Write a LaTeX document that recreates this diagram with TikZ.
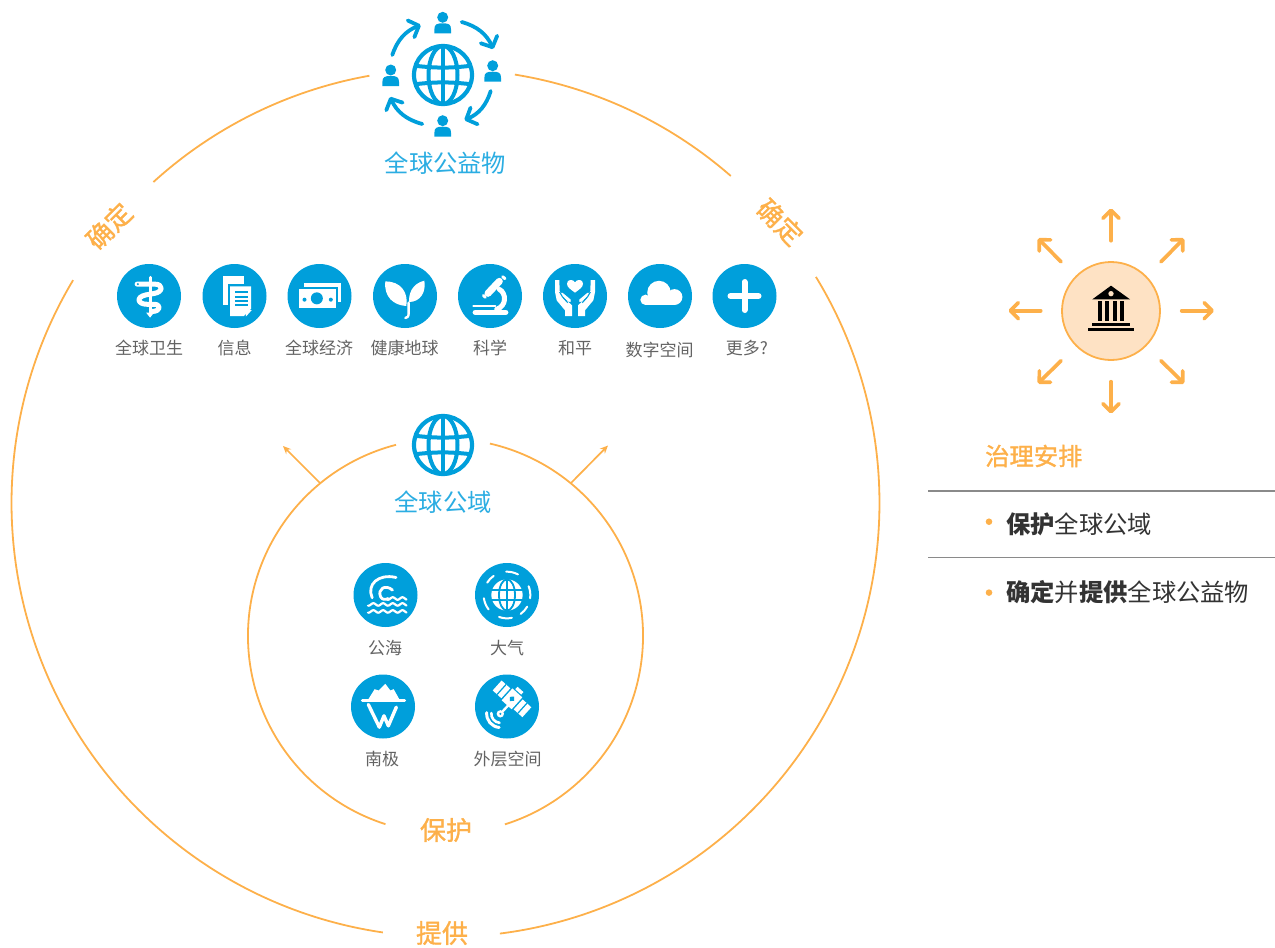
\documentclass[tikz,border=0pt]{standalone}
\usepackage{fontspec}
\usetikzlibrary{arrows.meta,calc}
\newfontfamily\cjk{Noto Sans CJK SC}
\newfontfamily\cjkmed[FakeBold=1.2]{Noto Sans CJK SC}
\definecolor{gblue}{HTML}{009FDB}
\definecolor{gbluetxt}{HTML}{2BADE2}
\definecolor{gorange}{HTML}{FDB04A}
\definecolor{gpeach}{HTML}{FEE2C4}
\definecolor{ggrey}{HTML}{636363}
\definecolor{gdark}{HTML}{333333}
\definecolor{grule}{HTML}{8A8A8A}
\tikzset{
  ring/.style={draw=gorange,line width=1.8pt},
  iconcirc/.style={circle,fill=gblue,minimum size=64pt,inner sep=0pt},
  lab/.style={font=\cjk\fontsize{17}{17}\selectfont,text=ggrey,inner sep=0pt},
  bluetitle/.style={font=\cjk\fontsize{24.3}{24.3}\selectfont,text=gbluetxt,inner sep=0pt},
  ringlab/.style={font=\cjkmed\fontsize{26}{26}\selectfont,text=gorange,inner sep=0pt},
  paneltxt/.style={font=\cjk\fontsize{24.3}{24.3}\selectfont,text=gdark,inner sep=0pt,anchor=west},
  burst/.style={draw=gorange,line width=3.7pt,line cap=round,-{Straight Barb[round,length=8pt,width=16pt]}},
  cyc/.style={draw=gblue,line width=3.8pt,line cap=round,-{Straight Barb[round,length=8.5pt,width=18pt]}},
  thinarrow/.style={draw=gorange,line width=1.7pt,-{Stealth[length=8pt,width=7pt]}},
  wl/.style={draw=white,line cap=round,line join=round},
  rulex/.style={draw=grule,line width=1.2pt},
}
\newcommand{\ringarc}[5]{\draw[ring] ({#1+#3*cos(#4)},{#2-#3*sin(#4)}) arc[start angle=#4,end angle=#5,radius=#3 pt];}
\newcommand{\globe}[2]{%
 \begin{scope}[shift={(#1,#2)}]
  \draw[gblue,line width=4.2pt] (0,0) circle[radius=29pt];
  \draw[gblue,line width=4pt] (0,0) ellipse[x radius=14.5pt,y radius=29pt];
  \draw[gblue,line width=4pt] (0,-29)--(0,29);
  \draw[gblue,line width=4pt] (-26,-9) to[bend right=6] (26,-9);
  \draw[gblue,line width=4pt] (-26,9) to[bend left=6] (26,9);
 \end{scope}}
\newcommand{\person}[2]{%
 \fill[gblue] (#1,#2-6) circle[radius=5.5pt];
 \fill[gblue] (#1-8.3,#2+10) -- (#1-8.3,#2+6) .. controls (#1-8.3,#2+1) and (#1-6,#2) .. (#1,#2) .. controls (#1+6,#2) and (#1+8.3,#2+1) .. (#1+8.3,#2+6) -- (#1+8.3,#2+10) -- cycle;}
\begin{document}
\begin{tikzpicture}[x=1pt,y=-1pt]
\useasboundingbox (0,0) rectangle (1275,948);
% rings
\ringarc{445.5}{503}{434}{100.1}{132.3}
\ringarc{445.5}{503}{434}{80.8}{48.9}
\ringarc{445.5}{503}{434}{31.4}{-82.8}
\ringarc{445.5}{503}{434}{261.7}{149.1}
\ringarc{445.5}{636}{197.5}{104.5}{252.3}
\ringarc{445.5}{636}{197.5}{77}{-72.5}
\coordinate (ta1) at (320,483); \coordinate (tb1) at (283,446);
\coordinate (ta2) at (571,483); \coordinate (tb2) at (608,445.5);
\draw[thinarrow] (ta1)--(tb1);
\draw[thinarrow] (ta2)--(tb2);
% ring labels
\node[ringlab,rotate=45] (qdl) at (109,226) {确定};
\node[ringlab,rotate=-45] (qdr) at (780,222) {确定};
\node[ringlab] (bh) at (446,830) {保护};
\node[ringlab] (tg) at (442,933) {提供};
% top icon
\globe{443}{75}
\person{442.7}{23.3}
\person{492.7}{71.7}
\person{390.7}{76}
\person{442.7}{126.7}
\coordinate (c1a) at (461.7,22); \coordinate (c1b) at (493.3,49);
\coordinate (c2a) at (490.7,91); \coordinate (c2b) at (464.5,120);
\coordinate (c3a) at (422.3,124); \coordinate (c3b) at (390,97);
\coordinate (c4a) at (392.3,55); \coordinate (c4b) at (420.7,25);
\draw[cyc] (c1a) to[bend left=25] (c1b);
\draw[cyc] (c2a) to[bend left=25] (c2b);
\draw[cyc] (c3a) to[bend left=25] (c3b);
\draw[cyc] (c4a) to[bend left=25] (c4b);
\node[bluetitle] (gpg) at (445.5,163) {全球公益物};
% second globe
\globe{443}{445}
\node[bluetitle] (gcm) at (443,502) {全球公域};
% row of icons
\node[iconcirc] (i1) at (149,296) {};
\node[iconcirc] (i2) at (234.5,296) {};
\node[iconcirc] (i3) at (319.5,296) {};
\node[iconcirc] (i4) at (405,296) {};
\node[iconcirc] (i5) at (490,296) {};
\node[iconcirc] (i6) at (575,296) {};
\node[iconcirc] (i7) at (660,296) {};
\node[iconcirc] (i8) at (744.5,296) {};
\node[lab] (l1) at (149,348) {全球卫生};
\node[lab] (l2) at (234.5,348) {信息};
\node[lab] (l3) at (319,348) {全球经济};
\node[lab] (l4) at (404.5,348) {健康地球};
\node[lab] (l5) at (490,348) {科学};
\node[lab] (l6) at (575,348) {和平};
\node[lab] (l7) at (659.5,350) {数字空间};
\node[lab] (l8) at (747,348) {更多?};
% icon 1 staff and snake
\begin{scope}[shift={(149,296)},scale=0.36]
 \draw[wl,line width=3pt] (3,-52)--(3,52);
 \fill[white] (-8,46) -- (14,46) -- (3,60) -- cycle;
 \draw[wl,line width=5pt] (-33,-33) -- (16,-33) .. controls (40,-33) and (40,-11) .. (14,-7) -- (-9,-3) .. controls (-37,3) and (-32,23) .. (-5,23) -- (14,23) .. controls (34,23) and (34,43) .. (8,43);
 \fill[gblue] (-31,-33) circle[radius=3pt];
\end{scope}
% icon 2 documents
\begin{scope}[shift={(234.5,296)},scale=1/3]
 \fill[white] (-34,-60) rectangle (28,28);
 \fill[gblue] (-20,-36) rectangle (56,66);
 \fill[white] (-13,-29) -- (50,-29) -- (50,38) -- (28,60) -- (-13,60) -- cycle;
 \fill[white] (34,42) -- (52,42) -- (34,62) -- cycle;
 \foreach \yy in {-11,2,15,28} \draw[gblue,line width=2pt] (1,\yy)--(40,\yy);
\end{scope}
% icon 3 money
\begin{scope}[shift={(319.5,296)},scale=1/3]
 \fill[white] (-48,-40) rectangle (65,18);
 \fill[gblue] (-70,-28) rectangle (56,42);
 \fill[white] (-63,-22) rectangle (50,36);
 \fill[gblue] (-8,7) circle[radius=18pt];
 \fill[gblue] (-45,11) circle[radius=6pt];
 \fill[gblue] (34,11) circle[radius=6pt];
\end{scope}
% icon 4 sprout
\begin{scope}[shift={(405,296)},scale=1/3]
 \fill[white] (-59,-44) .. controls (-14,-44) and (11,-12) .. (4,30) .. controls (-34,28) and (-64,3) .. cycle;
 \fill[white] (58,-46) .. controls (64,-12) and (46,18) .. (12,18) .. controls (11,-7) and (21,-37) .. cycle;
 \draw[wl,line width=2.4pt] (11,20) -- (11,52) .. controls (11,62) and (6,66) .. (1,66);
\end{scope}
% icon 5 microscope
\begin{scope}[shift={(490,296)},scale=1/3]
 \draw[wl,line width=7pt] (28,-44)--(-6,-8);
 \draw[wl,line width=3pt] (38,-58)--(45,-52);
 \draw[wl,line width=3pt] (-20,-2)--(-14,4);
 \draw[wl,line width=5pt] (28,-20) .. controls (50,-8) and (50,30) .. (20,40);
 \draw[wl,line width=5.5pt] (-44,49)--(47,49);
 \draw[wl,line width=2.2pt] (-50,29)--(16,29);
\end{scope}
% icon 6 hands
\begin{scope}[shift={(575,296)},scale=1/3]
 \fill[white] (0,-10) .. controls (-14,-21) and (-24,-26) .. (-24,-37) .. controls (-24,-50) and (-6,-52) .. (0,-41) .. controls (6,-52) and (24,-50) .. (24,-37) .. controls (24,-26) and (14,-21) .. (0,-10) -- cycle;
 \foreach \s in {-1,1} {
  \fill[white] (\s*60,-48) -- (\s*47,-48) -- (\s*46,-15) -- (\s*36,3) -- (\s*9,28) -- (\s*9,60) -- (\s*30,60) -- (\s*30,43) -- (\s*55,13) -- (\s*60,-12) -- cycle;
  \draw[gblue,line width=1.2pt] (\s*36,4) -- (\s*26,14);
  \draw[wl,line width=3pt] (\s*40,-6) -- (\s*16,14);
  \draw[gblue,line width=1.1pt] (\s*46,-12) -- (\s*38,2) -- (\s*22,20);
 }
\end{scope}
% icon 7 cloud
\begin{scope}[shift={(660,296)},scale=0.345]
 \fill[white] (-3,-10) circle[radius=34pt];
 \fill[white] (42,3) circle[radius=23pt];
 \fill[white] (-42,11) circle[radius=15pt];
 \fill[white] (-40,0) rectangle (42,26);
\end{scope}
% icon 8 plus
\draw[wl,line width=6pt] (i8.center) ++(-14,0) -- ++(28,0);
\draw[wl,line width=6pt] (i8.center) ++(0,-14) -- ++(0,28);
% lower icons
\node[iconcirc] (o1) at (385.5,595) {};
\node[iconcirc] (o2) at (507,595) {};
\node[iconcirc] (o3) at (383,706.5) {};
\node[iconcirc] (o4) at (507,706.5) {};
\node[lab] (m1) at (385,648) {公海};
\node[lab] (m2) at (507,648) {大气};
\node[lab] (m3) at (382,759) {南极};
\node[lab] (m4) at (507.5,759) {外层空间};
% ocean
\begin{scope}[shift={(385.5,595)},scale=0.35]
 \draw[wl,line width=2.8pt] (-38,8) .. controls (-55,-30) and (-20,-62) .. (30,-50);
 \draw[wl,line width=2.8pt] (20,-14) .. controls (0,-32) and (-24,-17) .. (-14,5) .. controls (-10,14) and (0,14) .. (8,10);
 \draw[wl,line width=2.2pt] plot[domain=5:60,samples=30] (\x,{10+3.5*sin(\x*13)});
 \draw[wl,line width=2.2pt] plot[domain=-50:60,samples=50] (\x,{27+3.5*sin(\x*13)});
 \draw[wl,line width=2.2pt] plot[domain=-50:60,samples=50] (\x,{47+3.5*sin(\x*13)});
\end{scope}
% atmosphere
\begin{scope}[shift={(507,595)},scale=1/3]
 \fill[white] (0,0) circle[radius=47pt];
 \draw[gblue,line width=1.8pt] (0,-47)--(0,47) (-47,-15)--(47,-15) (-47,15)--(47,15);
 \draw[gblue,line width=1.8pt] (0,0) ellipse[x radius=24pt,y radius=47pt];
 \foreach \a/\b in {62/92,125/148,188/218,250/282,306/330,352/382}
  \draw[wl,line width=2pt] ({70*cos(\a)},{-70*sin(\a)}) arc[start angle=\a,end angle=\b,radius=70pt];
\end{scope}
% antarctic
\begin{scope}[shift={(383,706.5)},scale=1/3]
 \fill[white] (-45,-20) -- (-25,-52) -- (-13,-48) -- (7,-68) -- (22,-48) -- (32,-52) -- (50,-20) -- cycle;
 \draw[wl,line width=3pt] (-62,-18)--(65,-18);
 \draw[wl,line width=3.4pt] (-44,-6) -- (-11,62) -- (3,28) -- (16,58) -- (40,2);
\end{scope}
% satellite
\begin{scope}[shift={(507,706.5)},scale=1/3]
 \draw[wl,line width=2.4pt] (-20,22) -- (8,-8);
 \fill[white] (-20,22) circle[radius=11pt];
 \fill[gblue] (-20,22) circle[radius=3.5pt];
 \foreach \r/\w in {27/2.6,41/3} \draw[wl,line width=\w pt] ({-20+\r*cos(175)},{22-\r*sin(175)}) arc[start angle=175,end angle=265,radius=\r pt];
 \begin{scope}[shift={(15,-23)},rotate=-42]
  \fill[white] (-60,-20) rectangle (-25,20);
  \fill[white] (25,-20) rectangle (60,20);
  \fill[white] (-20,-24) rectangle (20,24);
  \fill[white] (-12,-38) rectangle (12,-28);
  \draw[gblue,line width=1.2pt] (-42,-20)--(-42,20) (42,-20)--(42,20);
  \fill[gblue] (0,0) +(-9,0) -- +(0,-9) -- +(9,0) -- +(0,9) -- cycle;
 \end{scope}
\end{scope}
% bank
\node[circle,draw=gorange,fill=gpeach,line width=1.8pt,minimum size=98pt,inner sep=0pt] (bank) at (1111,311) {};
\begin{scope}[shift={(1111,311)},scale=1/3]
 \fill[black] (-56,-35) -- (0,-76) -- (57,-35) -- cycle;
 \fill[gpeach] (0,-52) circle[radius=8pt];
 \foreach \xx in {-38,-17,6,28} \fill[black] (\xx,-29) rectangle (\xx+11,30);
 \fill[black] (-56,36) rectangle (57,45);
 \fill[black] (-68,51) rectangle (68,59);
\end{scope}
\coordinate (a1) at (1111,240.7); \coordinate (b1) at (1111,208.5);
\coordinate (a2) at (1161,261.7); \coordinate (b2) at (1184,238.5);
\coordinate (a3) at (1181.7,310.7); \coordinate (b3) at (1214,310.7);
\coordinate (a4) at (1161,360.7); \coordinate (b4) at (1184,383.5);
\coordinate (a5) at (1111,381.7); \coordinate (b5) at (1111,413.5);
\coordinate (a6) at (1061,360.7); \coordinate (b6) at (1038,383.5);
\coordinate (a7) at (1040.7,310.7); \coordinate (b7) at (1008.5,310.7);
\coordinate (a8) at (1061,261.7); \coordinate (b8) at (1038,238.5);
\foreach \n in {1,...,8} \draw[burst] (a\n)--(b\n);
% panel
\node[font=\cjkmed\fontsize{24.3}{24.3}\selectfont,text=gorange,inner sep=0pt,anchor=west] (gov) at (985,456) {治理安排};
\coordinate (r1a) at (928,491); \coordinate (r1b) at (1275,491);
\coordinate (r2a) at (928,557.3); \coordinate (r2b) at (1275,557.3);
\draw[rulex] (r1a)--(r1b);
\draw[rulex] (r2a)--(r2b);
\fill[gorange] (989,521.7) circle[radius=3.3pt];
\fill[gorange] (989,592.6) circle[radius=3.3pt];
\node[paneltxt] (p1) at (1006,524) {{\bfseries 保护}全球公域};
\node[paneltxt] (p2) at (1006,592) {{\bfseries 确定}并{\bfseries 提供}全球公益物};
\end{tikzpicture}
\end{document}
